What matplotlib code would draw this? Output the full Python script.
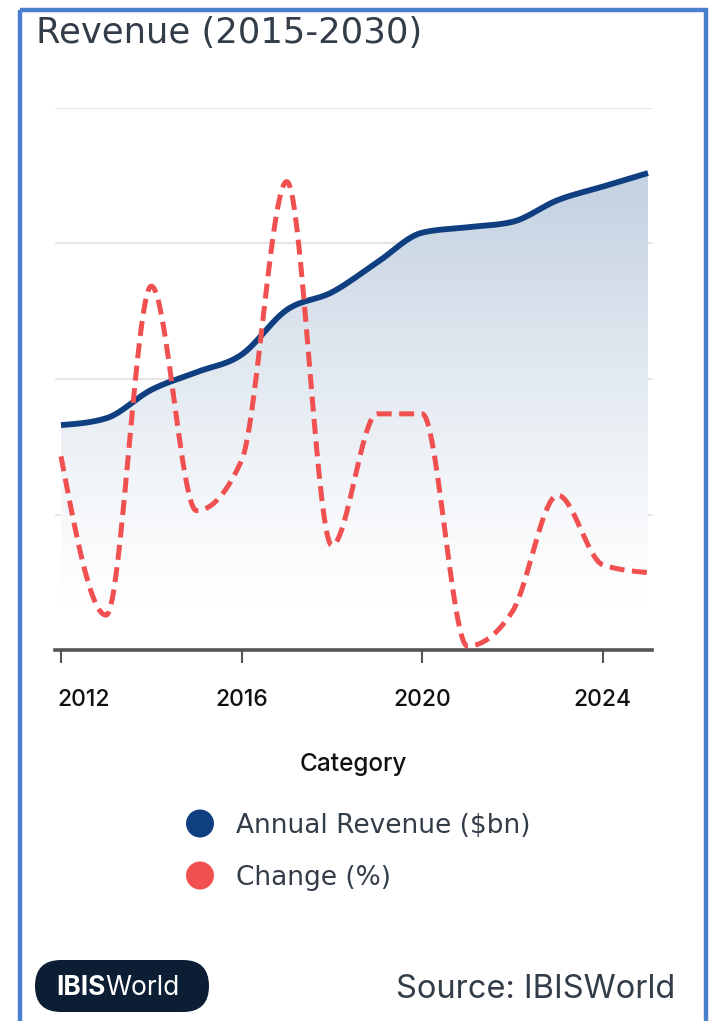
import numpy as np
import matplotlib
matplotlib.use("Agg")
import matplotlib.pyplot as plt
from matplotlib.patches import Rectangle, FancyBboxPatch, Circle
from matplotlib.transforms import ScaledTranslation

# --- Data ---
YEARS = [2012, 2013, 2014, 2015, 2016, 2017, 2018, 2019, 2020, 2021, 2022, 2023, 2024, 2025]
REVENUE = [16.6, 17.1, 19.2, 20.5, 21.8, 25.1, 26.4, 28.6, 30.8, 31.2, 31.6, 33.2, 34.2, 35.2]
CHANGE = [1.0, -3.1, 5.4, -0.4, 0.9, 8.1, -1.3, 2.1, 2.1, -3.9, -3.0, 0.0, -1.8, -2.0]
XTICKS = [2012, 2016, 2020, 2024]
LEGEND_LABELS = ["Annual Revenue ($bn)", "Change (%)"]

# --- Style ---
W, H = 712, 1021
NAVY = "#0f3f80"
RED = "#f0504f"
TEXT = "#333d4a"
FONT = ["Inter", "DejaVu Sans"]
WIDE = ["DejaVu Sans"]


def monotone_x(x, y, n=40):
    """Monotone cubic curve through the points (like d3.curveMonotoneX)."""
    x = np.asarray(x, float)
    y = np.asarray(y, float)
    h = np.diff(x)
    s = np.diff(y) / h
    t = np.zeros_like(y)
    for i in range(1, len(y) - 1):
        p = (s[i - 1] * h[i] + s[i] * h[i - 1]) / (h[i - 1] + h[i])
        t[i] = (np.sign(s[i - 1]) + np.sign(s[i])) * min(abs(s[i - 1]), abs(s[i]), 0.5 * abs(p))
    t[0] = (3 * s[0] - t[1]) / 2
    t[-1] = (3 * s[-1] - t[-2]) / 2
    xs, ys = [], []
    for i in range(len(h)):
        u = np.linspace(0, 1, n, endpoint=(i == len(h) - 1))
        h00 = 2 * u**3 - 3 * u**2 + 1
        h10 = u**3 - 2 * u**2 + u
        h01 = -2 * u**3 + 3 * u**2
        h11 = u**3 - u**2
        xs.append(x[i] + u * h[i])
        ys.append(h00 * y[i] + h10 * h[i] * t[i] + h01 * y[i + 1] + h11 * h[i] * t[i + 1])
    return np.concatenate(xs), np.concatenate(ys)


fig = plt.figure(figsize=(W / 100, H / 100), dpi=100)
fig.patch.set_facecolor("white")

# overlay in pixel coordinates for the card decorations
deco = fig.add_axes([0, 0, 1, 1], zorder=0)
deco.set_xlim(0, W)
deco.set_ylim(H, 0)
deco.axis("off")
deco.add_patch(Rectangle((20, 10), 686, H + 20, fill=False, edgecolor="#4a7fcf", linewidth=3.2))

# --- main chart ---
XLIM = (2012 - 6 / 45.15, 2025 + 4 / 45.15)
ax = fig.add_axes([55 / W, 1 - 650 / H, 597 / W, 542 / H], zorder=1)
ax.patch.set_alpha(0)

rx, ry = monotone_x(YEARS, REVENUE)
poly = ax.fill_between(rx, 0, ry, color="none")
grad = np.linspace(0, 1, 256).reshape(-1, 1)
top = np.array([0.78, 0.83, 0.89])
cols = 1 - (1 - top) * np.clip((grad - 0.08) / 0.75, 0, 1) ** 1.2
img = ax.imshow(cols[:, None, :].repeat(2, axis=1), extent=[YEARS[0], YEARS[-1], 0, 40],
                origin="lower", aspect="auto", zorder=1)
img.set_clip_path(poly.get_paths()[0], transform=ax.transData)
ax.plot(rx, ry, color=NAVY, linewidth=4.2, solid_capstyle="butt", zorder=3)

ax2 = ax.twinx()
ax2.set_ylim(-4, 10)
ax2.axis("off")
cx, cy = monotone_x(YEARS, CHANGE)
ax2.plot(cx, cy, color=RED, linewidth=3.6, linestyle=(0, (3.0, 1.5)), dash_capstyle="butt", zorder=4)

ax.set_xlim(*XLIM)
ax.set_ylim(0, 40)
ax.set_yticks([10, 20, 30, 40])
ax.grid(axis="y", color="#e6e6e6", linewidth=1.6)
ax.set_axisbelow(True)
for side in ["left", "right", "top"]:
    ax.spines[side].set_visible(False)
ax.spines["bottom"].set_color("#555555")
ax.spines["bottom"].set_linewidth(2.6)
ax.tick_params(axis="y", left=False, right=False, labelleft=False, labelright=False)
ax.set_xticks(XTICKS)
ax.set_xticklabels([str(v) for v in XTICKS])
ax.tick_params(axis="x", length=9, width=1.5, color="#555555", pad=19, labelsize=16.5, labelcolor="#111111")
for lbl in ax.get_xticklabels():
    lbl.set_family(FONT)
    lbl.set_fontweight("medium")
# first label is kept inside the plot, as in the original
first = ax.get_xticklabels()[0]
first.set_horizontalalignment("left")
first.set_transform(first.get_transform() + ScaledTranslation(-4 / 100, 0, fig.dpi_scale_trans))
ax.set_xlabel("Category", fontsize=17.5, family=FONT, fontweight="medium", color="#111111", labelpad=30)

# --- title ---
deco.text(36, 43, "Revenue (2015-2030)", fontsize=25.5, family=WIDE, color=TEXT, va="baseline")

# --- legend ---
for i, (lab, col) in enumerate(zip(LEGEND_LABELS, [NAVY, RED])):
    yy = 823.5 + 52 * i
    deco.add_patch(Circle((200, yy), 14, color=col, linewidth=0))
    deco.text(236, yy + 9.5, lab, fontsize=19, family=WIDE, color=TEXT, va="baseline")

# --- footer ---
deco.add_patch(FancyBboxPatch((35, 960), 174, 52, boxstyle="round,pad=0,rounding_size=26",
                              facecolor="#0b1e33", edgecolor="none"))
t1 = deco.text(56, 995, "IBIS", fontsize=19, fontweight="bold", family=FONT, color="white", va="baseline")
fig.canvas.draw()
bb = t1.get_window_extent()
x_end = deco.transData.inverted().transform((bb.x1, bb.y0))[0]
deco.text(x_end, 995, "World", fontsize=19, family=FONT, color="white", va="baseline")
deco.text(675, 998, "Source: IBISWorld", fontsize=23.5, family=FONT, color=TEXT, va="baseline", ha="right")

fig.savefig("out.png", dpi=100)
